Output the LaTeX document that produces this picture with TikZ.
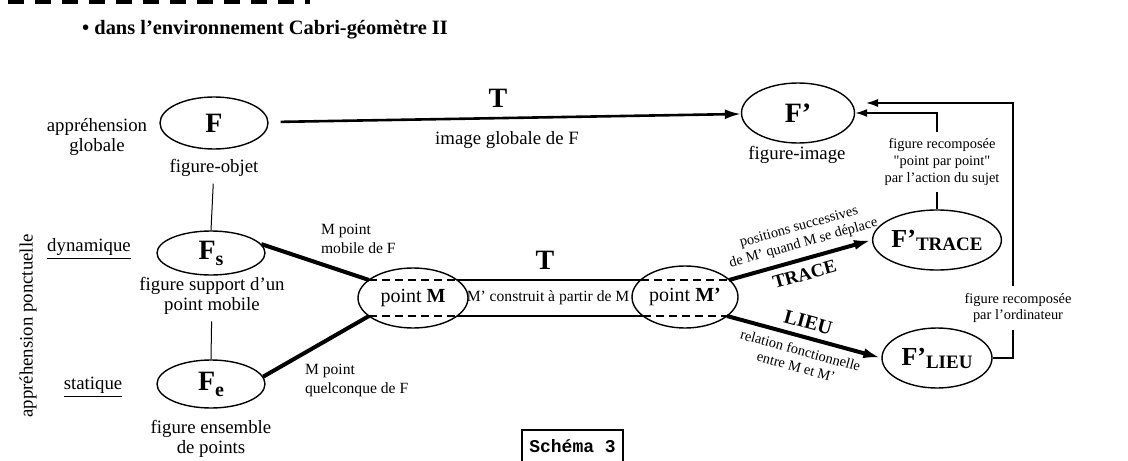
\documentclass[tikz,border=0pt]{standalone}
\usepackage{fontspec}
\setmainfont{Liberation Serif}[Ligatures=TeXOff]
\setmonofont{Liberation Mono}
\usepackage{tikz}
\usetikzlibrary{arrows.meta}
\usetikzlibrary{positioning,shapes.geometric}
\newcommand{\gros}{\fontsize{14}{16}\selectfont\bfseries}
\newcommand{\moyen}{\fontsize{10}{12}\selectfont}

\begin{document}
\begin{tikzpicture}[
x=0.5pt,y=-0.5pt,
MyOval/.style={draw,ellipse,line width=0.7pt,inner sep=0pt},
Band/.style={line width=1.3pt},
BandDash/.style={line width=1.3pt,dash pattern=on 4pt off 2.5pt},
Heavy/.style={line width=2pt},
ThinLine/.style={line width=0.5pt},
Link/.style={line width=0.8pt},
SmallTxt/.style={font=\fontsize{7.8}{9.5}\selectfont},
TinyTxt/.style={font=\fontsize{7.2}{8.4}\selectfont},
every node/.style={font=\fontsize{9.4}{9.8}\selectfont}
]
\useasboundingbox (0,0) rectangle (1128,460);
\clip (0,0) rectangle (1128,460);

% bandeau du haut
\draw[line width=2.5pt,dash pattern=on 8pt off 5.5pt] (8,2) -- (310,2);
\node[font=\fontsize{10.2}{12}\selectfont\bfseries] (titre) at (265,30) {• dans l’environnement Cabri-géomètre II};

% colonne de gauche
\node[MyOval,minimum width=54pt,minimum height=26pt] (F) at (214,123) {\gros F};
\node (objT) at (214,168) {figure-objet};
\node[align=center] (globT) at (97,137) {appréhension\\globale};

\node[MyOval,minimum width=54pt,minimum height=22pt] (Fs) at (211,253) {\gros F\raisebox{-3pt}{\fontsize{10}{10}\selectfont s}};
\node[align=center] (supT) at (212,296) {figure support d’un\\point mobile};
\node (dyn) at (89,249) {\underline{dynamique}};

\node[MyOval,minimum width=54pt,minimum height=24pt] (Fe) at (211,384) {\gros F\raisebox{-3pt}{\fontsize{10}{10}\selectfont e}};
\node[align=center] (ensT) at (211,439) {figure ensemble\\de points};
\node (stat) at (93,387) {\underline{statique}};

\node[rotate=90] (ponct) at (28,326) {appréhension ponctuelle};

\draw[ThinLine] (objT) -- (Fs.north);
\draw[ThinLine] (supT) -- (Fe.north);

% le tube M -- M'
\node[MyOval,minimum width=55pt,minimum height=30pt] (pM) at (413,298) {\moyen point \textbf{M}};
\node[MyOval,minimum width=53pt,minimum height=31pt] (pMp) at (685,297) {\moyen point \textbf{M’}};

\coordinate (bA) at (369,280);
\coordinate (bB) at (457,280);
\coordinate (bC) at (641,280);
\coordinate (bD) at (729,280);
\coordinate (bE) at (369,316);
\coordinate (bF) at (457,316);
\coordinate (bG) at (643,316);
\coordinate (bH) at (727,316);

\draw[BandDash] (bA) -- (bB);
\draw[Band] (bB) -- (bC);
\draw[BandDash] (bC) -- (bD);
\draw[BandDash] (bE) -- (bF);
\draw[Band] (bF) -- (bG);
\draw[BandDash] (bG) -- (bH);

\node (tB) at (545,260) {\gros T};
\node[font=\fontsize{7.8}{9}\selectfont] (constr) at (548,298) {M’ construit à partir de M};

\draw[Heavy] (Fs.10) -- (bA);
\draw[Heavy] (Fe.8) -- (bE);
\node[SmallTxt,anchor=west,align=left] (mobT) at (314,239) {M point\\mobile de F};
\node[SmallTxt,anchor=west,align=left] (quelT) at (298,380) {M point\\quelconque de F};

% partie droite
\node[MyOval,minimum width=56.5pt,minimum height=30pt] (Fp) at (798,113) {\gros F’};
\node (imgT) at (797,155) {figure-image};
\node[MyOval,minimum width=55pt,minimum height=30pt] (FT) at (937,240) {\fontsize{13}{15}\selectfont\bfseries F’\raisebox{-1.5pt}{\fontsize{9.5}{10}\selectfont TRACE}};
\node[MyOval,minimum width=55pt,minimum height=30pt] (FL) at (937,358) {\fontsize{13}{15}\selectfont\bfseries F’\raisebox{-1.5pt}{\fontsize{9.5}{10}\selectfont LIEU}};

\draw[line width=1.3pt,-{Latex[length=8pt,width=5pt]},shorten <=6pt] (F) -- (Fp);
\node (tA) at (498,98) {\gros T};
\node (imgF) at (507,140) {image globale de F};

\draw[Heavy,-{Latex[length=9pt,width=5pt]}] (bD) -- (FT.west)
 node[pos=0.55,sloped,above,align=center,TinyTxt] {positions successives\\de M’ quand M se déplace}
 node[midway,sloped,below,font=\fontsize{9.3}{10}\selectfont\bfseries] {TRACE};
\draw[Heavy,-{Latex[length=9pt,width=5pt]}] (bH) -- (FL.west)
 node[midway,sloped,above,font=\fontsize{10}{11}\selectfont\bfseries] {LIEU}
 node[midway,sloped,below,align=center,TinyTxt] {relation fonctionnelle\\entre M et M’};

\node[TinyTxt,align=center] (recT) at (942,162) {figure recomposée\\"point par point"\\par l’action du sujet};
\draw[Link] (FT.north) -- (FT.north |- recT.south);
\draw[Link,-{Latex[length=6pt,width=4pt]}] (FT.north |- recT.north) |- (Fp.east);

\node[TinyTxt,align=center] (recL) at (1018,308) {figure recomposée\\par l’ordinateur};
\coordinate (rail) at (1013,358);
\coordinate (FpIn) at (866,103);
\draw[Link] (FL.east) -- (rail) -- (rail |- recL.south);
\draw[Link,-{Latex[length=6pt,width=4pt]}] (rail |- recL.north) |- (FpIn);

\node[draw,line width=0.6pt,minimum width=50.5pt,minimum height=16pt,font=\ttfamily\bfseries\fontsize{9}{10}\selectfont] (sch) at (572.5,446) {Schéma 3};

\end{tikzpicture}
\end{document}
